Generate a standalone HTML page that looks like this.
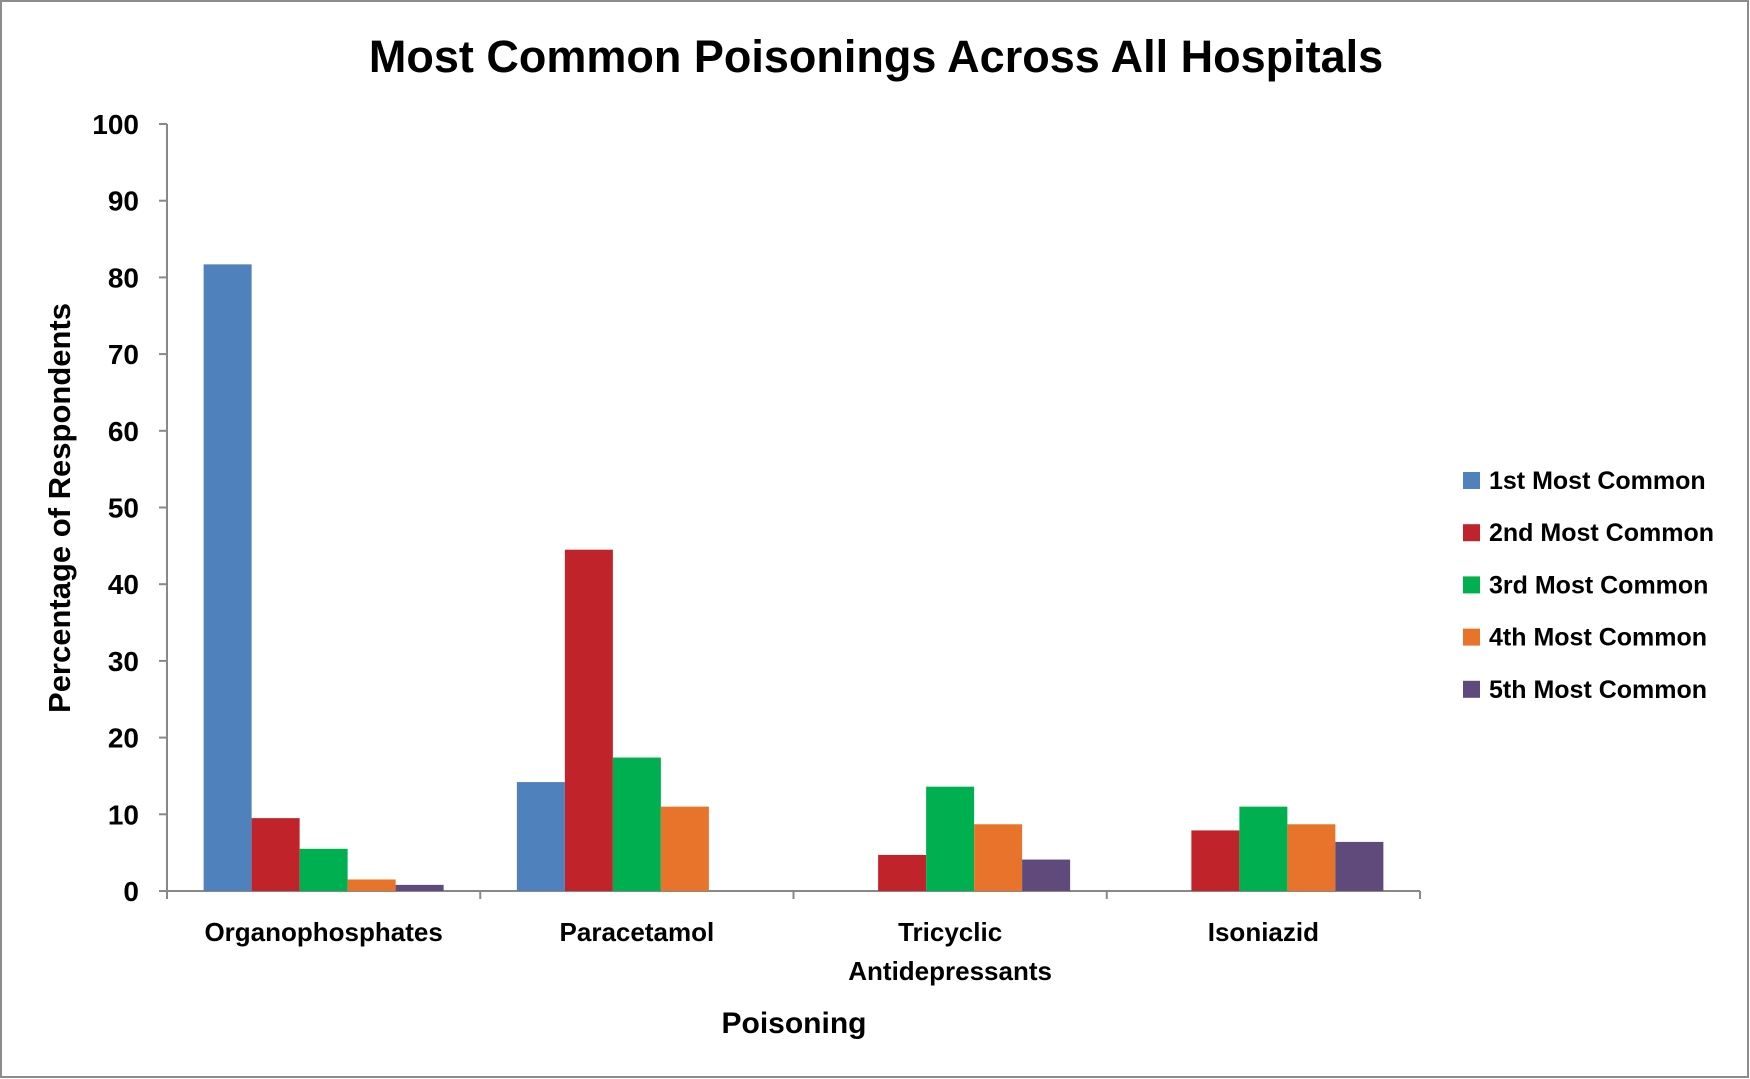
<!DOCTYPE html>
<html><head><meta charset="utf-8"><style>
html,body{margin:0;padding:0;background:#fff}
svg{display:block;font-family:"Liberation Sans",sans-serif}
</style></head><body>
<svg width="1750" height="1079" viewBox="0 0 1750 1079">
<rect x="1" y="1" width="1747" height="1076" fill="#fff" stroke="#8c8c8c" stroke-width="2"/>
<text x="876" y="72" text-anchor="middle" font-size="45" font-weight="bold">Most Common Poisonings Across All Hospitals</text>
<g id="axes"></g><g id="bars"></g><g id="legend"></g>
<text transform="translate(70,508) rotate(-90)" text-anchor="middle" font-size="31" font-weight="bold">Percentage of Respondents</text>
<text x="794" y="1033" text-anchor="middle" font-size="30" font-weight="bold">Poisoning</text>
</svg>
<script>
const categories=[["Organophosphates"],["Paracetamol"],["Tricyclic","Antidepressants"],["Isoniazid"]];
const seriesNames=["1st Most Common","2nd Most Common","3rd Most Common","4th Most Common","5th Most Common"];
const s1=[81.7,14.2,0,0];
const s2=[9.5,44.5,4.7,7.9];
const s3=[5.5,17.4,13.6,11];
const s4=[1.5,11,8.7,8.7];
const s5=[0.8,0,4.1,6.4];
const yTicks=[0,10,20,30,40,50,60,70,80,90,100];
const colors=["#4f81bd","#c0232a","#00b050","#e8732a","#604a7b"];
const series=[s1,s2,s3,s4,s5];
const NS="http://www.w3.org/2000/svg";
const x0=167,x1=1420,yb=891,yt=124;
const y=v=>yb-(v/100)*(yb-yt);
const catW=(x1-x0)/categories.length;
function mk(t,a,p){const e=document.createElementNS(NS,t);for(const k in a)e.setAttribute(k,a[k]);p.appendChild(e);return e;}
const ax=document.getElementById('axes');
let l=mk('line',{x1:x0,y1:yt,x2:x0,y2:yb+8,stroke:'#888','stroke-width':2},ax);


l=mk('line',{x1:x0,y1:yb,x2:x1,y2:yb,stroke:'#888','stroke-width':2},ax);


yTicks.forEach(v=>{
 mk('line',{x1:x0-8,y1:y(v),x2:x0,y2:y(v),stroke:'#888','stroke-width':2},ax);
 const t=mk('text',{x:x0-28,y:y(v)+10,'text-anchor':'end','font-size':28,'font-weight':'bold'},ax);
 t.textContent=v;
 
 
});
for(let i=0;i<=categories.length;i++)mk('line',{x1:x0+i*catW,y1:yb,x2:x0+i*catW,y2:yb+8,stroke:'#888','stroke-width':2},ax);
categories.forEach((c,i)=>{
 c.forEach((ln,j)=>{
  const t=mk('text',{x:x0+(i+0.5)*catW,y:941+j*39,'text-anchor':'middle','font-size':26,'font-weight':'bold'},ax);
  t.textContent=ln;
  
  
 });
});
const bg=document.getElementById('bars');
const bw=48,off=(catW-bw*5)/2;
series.forEach((s,k)=>{
 s.forEach((v,i)=>{
  if(v<=0)return;
  const r=mk('rect',{x:x0+i*catW+off+k*bw,y:y(v),width:bw,height:yb-y(v),fill:colors[k]},bg);
  
  
 });
});
const lg=document.getElementById('legend');
seriesNames.forEach((n,k)=>{
 const yy=480+k*52.2;
 const r=mk('rect',{x:1463,y:yy-8,width:17,height:17,fill:colors[k]},lg);
 
 
 const t=mk('text',{x:1489,y:yy+9,'font-size':25,'font-weight':'bold'},lg);
 t.textContent=n;
 
 
});
</script>
</body></html>
